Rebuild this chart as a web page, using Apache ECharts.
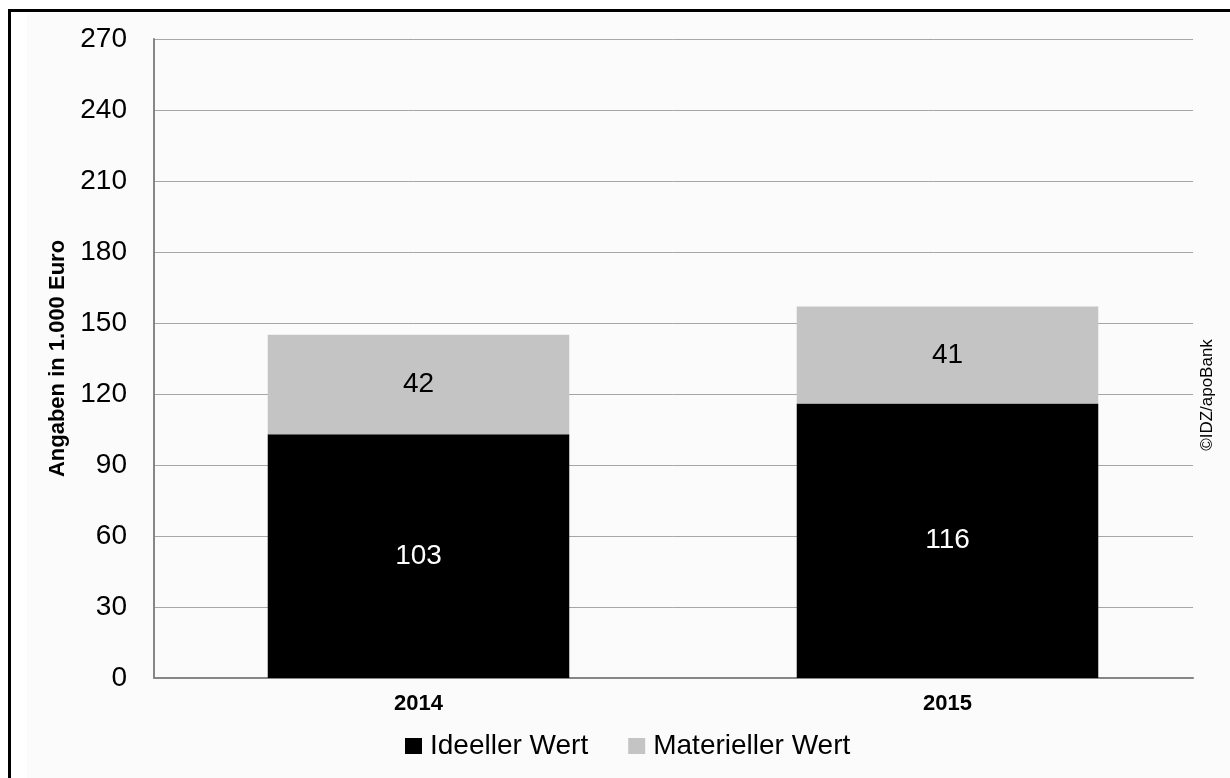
<!DOCTYPE html>
<html>
<head>
<meta charset="utf-8">
<script src="https://cdn.jsdelivr.net/npm/echarts@6/dist/echarts.min.js"></script>
<style>
html,body{margin:0;padding:0;background:#fff;}
#chart{width:1230px;height:778px;}
</style>
</head>
<body>
<div id="chart"></div>
<script>
const categories = ['2014', '2015'];
const ideellerWert = [103, 116];
const materiellerWert = [42, 41];
const seriesNames = ['Ideeller Wert', 'Materieller Wert'];
const yAxisName = 'Angaben in 1.000 Euro';
const sourceText = '©IDZ/apoBank';

const chart = echarts.init(document.getElementById('chart'));
const font = 'Liberation Sans, Arial, sans-serif';
chart.setOption({
  backgroundColor: '#ffffff',
  animation: false,
  textStyle: { fontFamily: font },
  graphic: [
    { type: 'rect', z: -10, silent: true, shape: { x: 27, y: 13, width: 1300, height: 900 }, style: { fill: '#fbfbfb' } },
    { type: 'rect', z: -9, silent: true, shape: { x: 9.5, y: 10.5, width: 1300, height: 900 }, style: { fill: 'none', stroke: '#000', lineWidth: 3 } },
    { type: 'text', silent: true, x: 1207, y: 395, rotation: Math.PI / 2,
      style: { text: sourceText, fill: '#000', font: '17px ' + font, align: 'center', verticalAlign: 'middle' } }
  ],
  grid: [
    { left: 154, right: 37, top: 39, bottom: 100, containLabel: false },
    { left: 154, right: 18, top: 39, bottom: 100, containLabel: false }
  ],
  legend: {
    top: 727, left: 400,
    itemWidth: 17, itemHeight: 16, itemGap: 40,
    icon: 'rect',
    textStyle: { fontSize: 28, color: '#000', fontFamily: font, padding: [0, 0, 0, 3] },
    data: seriesNames
  },
  xAxis: [
    {
      type: 'category', gridIndex: 0,
      data: categories,
      axisLine: { lineStyle: { color: '#868686', width: 2 } },
      axisTick: { show: false },
      axisLabel: { show: false }
    },
    {
      type: 'category', gridIndex: 1,
      data: categories,
      axisLine: { show: false },
      axisTick: { show: false },
      axisLabel: { fontSize: 22, fontWeight: 'bold', color: '#000', margin: 15, fontFamily: font }
    }
  ],
  yAxis: [
    {
      type: 'value', gridIndex: 0,
      min: 0, max: 270, interval: 30,
      name: yAxisName,
      nameLocation: 'middle',
      nameGap: 80,
      nameTextStyle: { fontSize: 22, fontWeight: 'bold', color: '#000', fontFamily: font },
      axisLine: { show: true, lineStyle: { color: '#868686', width: 2 } },
      axisTick: { show: false },
      axisLabel: { fontSize: 28, color: '#000', margin: 27, fontFamily: font },
      splitLine: { lineStyle: { color: '#a6a6a6', width: 1 } }
    },
    {
      type: 'value', gridIndex: 1,
      min: 0, max: 270, interval: 30,
      axisLine: { show: false },
      axisTick: { show: false },
      axisLabel: { show: false },
      splitLine: { show: false }
    }
  ],
  series: [
    {
      name: seriesNames[0], type: 'bar', stack: 'total', data: ideellerWert,
      xAxisIndex: 1, yAxisIndex: 1,
      barWidth: '57%',
      itemStyle: { color: '#000000' },
      label: { show: true, position: 'inside', color: '#ffffff', fontSize: 28, fontFamily: font }
    },
    {
      name: seriesNames[1], type: 'bar', stack: 'total', data: materiellerWert,
      xAxisIndex: 1, yAxisIndex: 1,
      barWidth: '57%',
      itemStyle: { color: '#c4c4c4' },
      label: { show: true, position: 'inside', color: '#000000', fontSize: 28, fontFamily: font }
    }
  ]
});
</script>
</body>
</html>
